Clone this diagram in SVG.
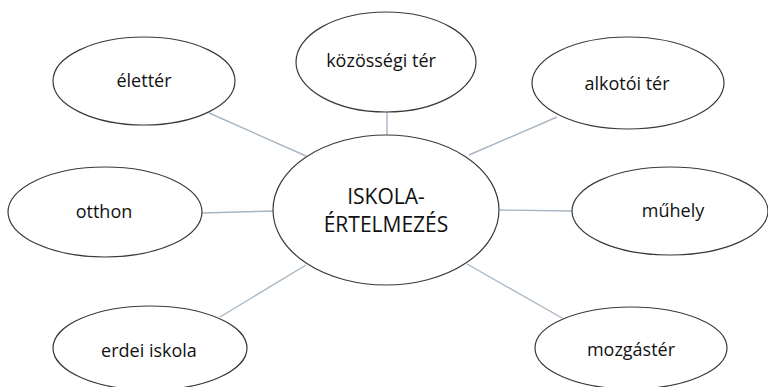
<svg xmlns="http://www.w3.org/2000/svg" width="768" height="387" viewBox="0 0 768 387">
<style>
.n ellipse{fill:#fff;stroke:#3a3a3a;stroke-width:1.2}
.n text{font-family:"Open Sans","Liberation Sans",sans-serif;font-size:18px;fill:#111;text-anchor:middle}
#center text{font-size:21px}
#edges line{stroke:#a7b6c4;stroke-width:1.4}
</style>
<rect width="768" height="387" fill="#fff"/>
<g id="edges">
<line x1="209" y1="113" x2="306" y2="156"/>
<line x1="387" y1="112" x2="387" y2="135"/>
<line x1="557" y1="117" x2="469" y2="155"/>
<line x1="202" y1="213" x2="274" y2="211"/>
<line x1="306" y1="265" x2="220" y2="317"/>
<line x1="500" y1="210" x2="572" y2="211"/>
<line x1="467" y1="264" x2="562" y2="318"/>
</g>
<g id="center" class="n"><ellipse cx="386" cy="210" rx="113" ry="75"/><text x="386" y="204">ISKOLA-</text><text x="386" y="232">ÉRTELMEZÉS</text></g>
<g id="eletter" class="n"><ellipse cx="144" cy="81" rx="91" ry="44"/><text x="144" y="87">élettér</text></g>
<g id="kozossegi" class="n"><ellipse cx="386" cy="62" rx="90" ry="50"/><text x="381" y="67">közösségi tér</text></g>
<g id="alkotoi" class="n"><ellipse cx="628" cy="83" rx="96" ry="46"/><text x="627" y="90">alkotói tér</text></g>
<g id="otthon" class="n"><ellipse cx="105" cy="212" rx="97" ry="45"/><text x="104" y="218">otthon</text></g>
<g id="muhely" class="n"><ellipse cx="670" cy="211" rx="98" ry="44"/><text x="673" y="217">műhely</text></g>
<g id="erdei" class="n"><ellipse cx="150" cy="348" rx="97" ry="42"/><text x="149" y="357">erdei iskola</text></g>
<g id="mozgaster" class="n"><ellipse cx="631" cy="348" rx="96" ry="41"/><text x="631" y="356">mozgástér</text></g>
</svg>
